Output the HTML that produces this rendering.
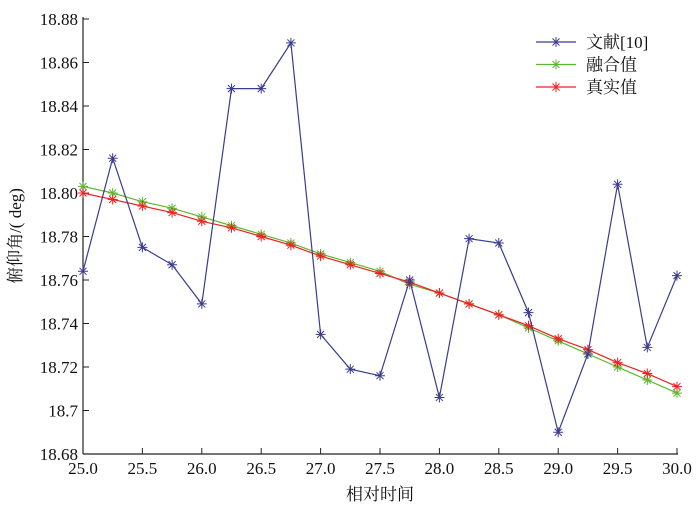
<!DOCTYPE html>
<html><head><meta charset="utf-8"><style>
body{margin:0;background:#fff}
svg text{font-family:"Liberation Serif","Noto Serif CJK SC",serif;fill:#111}
</style></head><body>
<svg id="c" width="700" height="504" xmlns="http://www.w3.org/2000/svg"></svg>
<script>
const xs=[25,25.25,25.5,25.75,26,26.25,26.5,26.75,27,27.25,27.5,27.75,28,28.25,28.5,28.75,29,29.25,29.5,29.75,30];
const lit=[18.764,18.816,18.775,18.767,18.749,18.848,18.848,18.869,18.735,18.719,18.716,18.760,18.706,18.779,18.777,18.745,18.690,18.726,18.804,18.729,18.762];
const fused=[18.803,18.800,18.796,18.793,18.789,18.785,18.781,18.777,18.772,18.768,18.764,18.758,18.754,18.749,18.744,18.738,18.732,18.726,18.720,18.714,18.708];
const truth=[18.800,18.797,18.794,18.791,18.787,18.784,18.780,18.776,18.771,18.767,18.763,18.759,18.754,18.749,18.744,18.739,18.733,18.728,18.722,18.717,18.711];
const xTicks=[25,25.5,26,26.5,27,27.5,28,28.5,29,29.5,30];
const xTickLabels=["25.0","25.5","26.0","26.5","27.0","27.5","28.0","28.5","29.0","29.5","30.0"];
const yTicks=[18.68,18.70,18.72,18.74,18.76,18.78,18.80,18.82,18.84,18.86,18.88];
const yTickLabels=["18.68","18.7","18.72","18.74","18.76","18.78","18.80","18.82","18.84","18.86","18.88"];
const L=83,R=677,T=19,B=454;
const X=v=>L+(v-25)/5*(R-L), Y=v=>B-(v-18.68)/0.2*(B-T);
const svg=document.getElementById('c');const NS='http://www.w3.org/2000/svg';
function el(t,a,p){const e=document.createElementNS(NS,t);for(const k in a)e.setAttribute(k,a[k]);(p||svg).appendChild(e);return e;}
const ax=el('g',{});


el('line',{x1:L,y1:T-2,x2:L,y2:B,stroke:'#222','stroke-width':1.2},ax);
el('line',{x1:L,y1:B,x2:R+1,y2:B,stroke:'#222','stroke-width':1.2},ax);
xTicks.forEach((v,i)=>{el('line',{x1:X(v),y1:B,x2:X(v),y2:B-6,stroke:'#222'},ax);
 const t=el('text',{x:X(v),y:B+20,'text-anchor':'middle','font-size':17},ax);t.textContent=xTickLabels[i];
 
 });
yTicks.forEach((v,i)=>{el('line',{x1:L,y1:Y(v),x2:L+6,y2:Y(v),stroke:'#222'},ax);
 const t=el('text',{x:L-5,y:Y(v)+6,'text-anchor':'end','font-size':17},ax);t.textContent=yTickLabels[i];
 
 });
const xt=el('text',{x:(L+R)/2,y:500,'text-anchor':'middle','font-size':17});xt.textContent='相对时间';


const yt=el('text',{x:0,y:0,'text-anchor':'middle','font-size':17,transform:'translate(21,236) rotate(-90)'});yt.textContent='俯仰角/( deg)';


function star(g,x,y,c){const r=5;el('path',{d:`M${x-r} ${y}H${x+r}M${x} ${y-r}V${y+r}M${x-3.5} ${y-3.5}L${x+3.5} ${y+3.5}M${x-3.5} ${y+3.5}L${x+3.5} ${y-3.5}`,stroke:c,'stroke-width':1,fill:'none'},g);}
function series(vals,c,name){const g=el('g',{});
 
 
 el('polyline',{points:vals.map((v,i)=>X(xs[i])+','+Y(v)).join(' '),fill:'none',stroke:c,'stroke-width':1.2},g);
 vals.forEach((v,i)=>star(g,X(xs[i]),Y(v),c));}
series(fused,'#5cb82e','series-fused');
series(truth,'#ee2020','series-true');
series(lit,'#3b3b8f','series-literature');
const leg=[['文献[10]','#3b3b8f'],['融合值','#5cb82e'],['真实值','#ee2020']];
leg.forEach((l,i)=>{const g=el('g',{});
 
 
 const y=42+i*22.5;el('line',{x1:536,y1:y,x2:576,y2:y,stroke:l[1],'stroke-width':1.2},g);star(g,556,y,l[1]);
 const t=el('text',{x:586,y:y+6,'font-size':17},g);t.textContent=l[0];});
</script>
</body></html>
